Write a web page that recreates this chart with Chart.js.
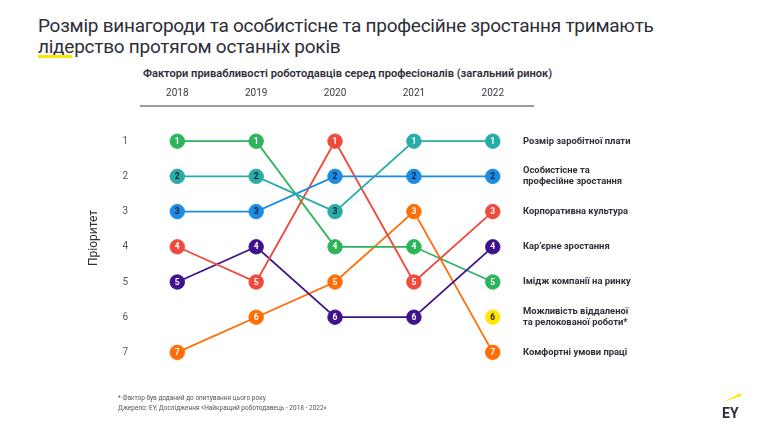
<!DOCTYPE html>
<html lang="uk">
<head>
<meta charset="utf-8">
<script src="https://cdn.jsdelivr.net/npm/chart.js@4"></script>
<style>
  body { margin: 0; width: 764px; height: 430px; position: relative; background: #fff; overflow: hidden; font-family: Roboto, "Noto Sans", sans-serif; color: #2e2e38; }
  #chart { position: absolute; left: 0; top: 0; }
  .title { position: absolute; left: 38px; top: 15px; font-size: 19px; letter-spacing: -0.25px; line-height: 21px; font-weight: 400; color: #2e2e38; white-space: nowrap; }
  .mark { position: absolute; left: 38px; top: 55px; width: 34px; height: 3px; background: #ffe600; }
  .sub { position: absolute; left: 143px; top: 67px; font-size: 11.1px; font-weight: 600; color: #2e2e38; white-space: nowrap; }
  .foot { position: absolute; left: 118px; top: 393px; font-size: 6.5px; line-height: 10px; color: #555; white-space: nowrap; }
  .logo { position: absolute; left: 720px; top: 390px; }
</style>
</head>
<body>
<div class="title">Розмір винагороди та особистісне та професійне зростання тримають<br>лідерство протягом останніх років</div>
<div class="mark"></div>
<div class="sub">Фактори привабливості роботодавців серед професіоналів (загальний ринок)</div>
<canvas id="chart" width="764" height="430"></canvas>
<div class="foot">* Фактор був доданий до опитування цього року<br>Джерело: EY, Дослідження «Найкращий роботодавець - 2018 - 2022»</div>
<svg class="logo" width="24" height="30" viewBox="0 0 24 30">
  <polygon points="3,12 21,3 21,6" fill="#ffe600"/>
  <text x="2" y="28" font-family="Roboto, sans-serif" font-weight="700" font-size="14" fill="#2e2e38">EY</text>
</svg>
<script>
const years = ['2018', '2019', '2020', '2021', '2022'];
const rankTicks = [1, 2, 3, 4, 5, 6, 7];

// рейтинг кожного фактора по роках
const salary = [2, 2, 3, 1, 1];
const growth = [3, 3, 2, 2, 2];
const culture = [4, 5, 1, 5, 3];
const career = [5, 4, 6, 6, 4];
const image = [1, 1, 4, 4, 5];
const remote = [null, null, null, null, 6];
const comfort = [7, 6, 5, 3, 7];

const factorNames = [
    ['Розмір заробітної плати'],
    ['Особистісне та', 'професійне зростання'],
    ['Корпоративна культура'],
    ['Кар’єрне зростання'],
    ['Імідж компанії на ринку'],
    ['Можливість віддаленої', 'та релокованої роботи*'],
    ['Комфортні умови праці']
];

const series = [
    { data: salary, color: '#27aca8', dark: v => v !== 1 },
    { data: growth, color: '#1a8ce3', dark: () => true },
    { data: culture, color: '#f04a3c', dark: () => false },
    { data: career, color: '#3d128a', dark: () => false },
    { data: image, color: '#2db35a', dark: () => false },
    { data: remote, color: '#ffe600', dark: () => true },
    { data: comfort, color: '#ff6d04', dark: () => false }
];

const toPoints = arr => arr.map((v, i) => ({ x: i, y: v }));

const lineSets = series.map(s => ({
    data: toPoints(s.data),
    borderColor: s.color,
    borderWidth: 1.8,
    pointRadius: 0,
    fill: false,
    order: 2
}));

const dotSets = series.map(s => ({
    data: toPoints(s.data),
    showLine: false,
    pointRadius: 7.3,
    pointBorderWidth: 0.8,
    pointBackgroundColor: s.color,
    pointBorderColor: s.color,
    rankText: s.data.map(v => (s.dark(v) ? '#1c1c2a' : '#ffffff')),
    order: 1
}));

// цифри всередині кружків та підписи праворуч
const rankLabels = {
    id: 'rankLabels',
    afterDatasetsDraw(chart) {
        const ctx = chart.ctx;
        const yScale = chart.scales.y;
        ctx.save();
        ctx.textAlign = 'center';
        ctx.textBaseline = 'middle';
        ctx.font = '700 8.5px Roboto, sans-serif';
        chart.data.datasets.forEach((ds, di) => {
            if (!ds.rankText) return;
            chart.getDatasetMeta(di).data.forEach((pt, i) => {
                const v = ds.data[i].y;
                if (v == null) return;
                ctx.fillStyle = ds.rankText[i];
                ctx.fillText(String(v), pt.x, pt.y + 0.5);
            });
        });

        ctx.textAlign = 'left';
        ctx.fillStyle = '#2e2e38';
        ctx.font = '700 9.4px Roboto, sans-serif';
        series.forEach((s, si) => {
            const last = s.data[s.data.length - 1];
            const y = yScale.getPixelForValue(last);
            const lines = factorNames[si];
            lines.forEach((t, li) => {
                ctx.fillText(t, 523, y + (li - (lines.length - 1) / 2) * 11);
            });
        });
        ctx.restore();
    }
};

new Chart(document.getElementById('chart'), {
    type: 'line',
    data: { datasets: lineSets.concat(dotSets) },
    options: {
        responsive: false,
        animation: false,
        layout: { padding: { left: 87, right: 231, top: 80, bottom: 60 } },
        plugins: { legend: { display: false }, tooltip: { enabled: false } },
        elements: { line: { tension: 0 } },
        scales: {
            x: {
                type: 'linear',
                position: 'top',
                min: -0.46,
                max: 4.51,
                afterBuildTicks: scale => { scale.ticks = years.map((y, i) => ({ value: i })); },
                ticks: {
                    callback: v => years[v],
                    color: '#3a3a44',
                    font: { family: 'Roboto, sans-serif', size: 10 },
                    padding: 7,
                    maxRotation: 0
                },
                grid: { display: true, color: 'transparent', drawTicks: false },
                border: { display: true, color: '#9a9a9a', width: 2 }
            },
            y: {
                type: 'linear',
                reverse: true,
                min: 0,
                max: 7.5,
                afterBuildTicks: scale => { scale.ticks = rankTicks.map(v => ({ value: v })); },
                ticks: {
                    color: '#55555f',
                    font: { family: 'Roboto, sans-serif', size: 10 },
                    padding: 13
                },
                title: {
                    display: true,
                    text: 'Пріоритет',
                    color: '#2e2e38',
                    font: { family: 'Roboto, sans-serif', size: 12 },
                    padding: { top: 0, bottom: 8 }
                },
                grid: { display: false, drawTicks: false },
                border: { display: false }
            }
        }
    },
    plugins: [rankLabels]
});
</script>
</body>
</html>
